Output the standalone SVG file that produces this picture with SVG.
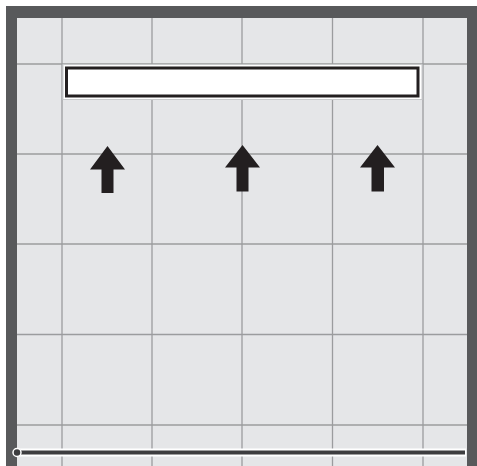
<svg xmlns="http://www.w3.org/2000/svg" width="477" height="466" viewBox="0 0 477 466">
  <style>
    .grid { stroke: #9b9c9e; stroke-width: 1.3; fill: none; }
    .arrow { fill: #231f20; }
  </style>
  <rect x="0" y="0" width="477" height="466" fill="#ffffff"/>
  <g id="background">
    <rect x="6" y="6" width="471" height="460" fill="#58595b"/>
    <rect x="17" y="18" width="450" height="448" fill="#e5e6e8"/>
  </g>
  <g id="grid" class="grid">
    <line x1="62" y1="18" x2="62" y2="466"/>
    <line x1="152" y1="18" x2="152" y2="466"/>
    <line x1="242" y1="18" x2="242" y2="466"/>
    <line x1="332.5" y1="18" x2="332.5" y2="466"/>
    <line x1="423" y1="18" x2="423" y2="466"/>
    <line x1="17" y1="64" x2="467" y2="64"/>
    <line x1="17" y1="154" x2="467" y2="154"/>
    <line x1="17" y1="244" x2="467" y2="244"/>
    <line x1="17" y1="334.5" x2="467" y2="334.5"/>
    <line x1="17" y1="425" x2="467" y2="425"/>
  </g>
  <g id="bar">
    <rect x="63" y="64.5" width="359" height="35" fill="#ffffff" stroke="#c8c9cb" stroke-width="1"/>
    <rect x="66.5" y="68" width="351.5" height="28" fill="#ffffff" stroke="#231f20" stroke-width="3"/>
  </g>
  <g id="arrows">
    <polygon id="arrow1" class="arrow" points="107.5,146 125,169.5 113.5,169.5 113.5,193 101.5,193 101.5,169.5 90,169.5"/>
    <polygon id="arrow2" class="arrow" points="242.5,145 260,167.5 248.5,167.5 248.5,191.5 236.5,191.5 236.5,167.5 225,167.5"/>
    <polygon id="arrow3" class="arrow" points="377.5,145 395,167.5 384,167.5 384,191.5 371.5,191.5 371.5,167.5 360,167.5"/>
  </g>
  <g id="connectors">
    <line x1="17" y1="452.5" x2="466" y2="452.5" stroke="#ffffff" stroke-width="8"/>
    <line x1="17" y1="452.5" x2="465" y2="452.5" stroke="#3d3d3f" stroke-width="4"/>
    <circle cx="17" cy="452.5" r="4" fill="#3d3d3f" stroke="#ffffff" stroke-width="1.5"/>
  </g>
</svg>
